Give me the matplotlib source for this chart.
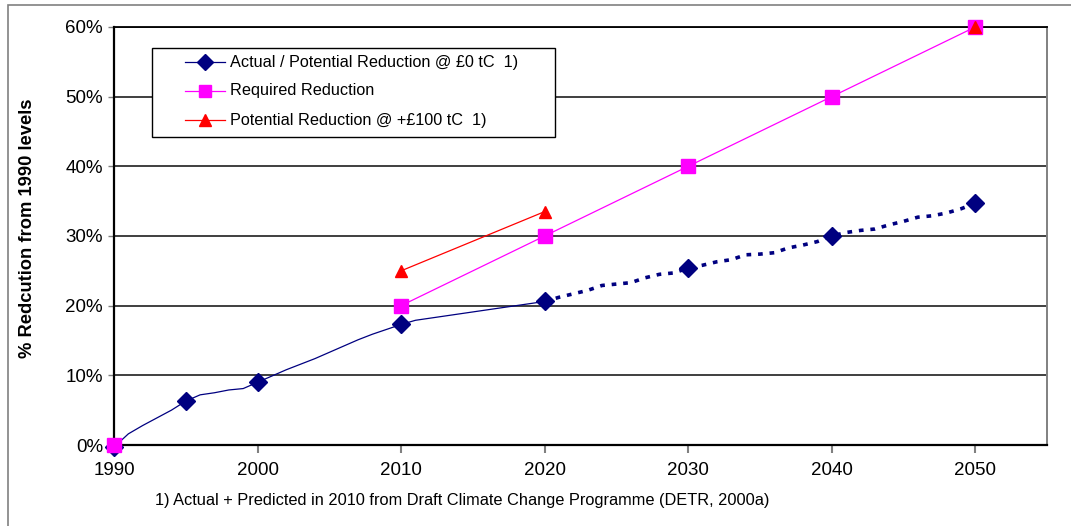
import numpy as np
import matplotlib.pyplot as plt
from matplotlib.patches import Rectangle
from matplotlib.lines import Line2D

# annual reductions (% below 1990), actual up to 2010 then programme estimate to 2020
years_actual = list(range(1990, 2021))
actual_pct = [-0.3, 1.6, 2.8, 3.9, 5.0, 6.3, 7.2, 7.5, 7.9, 8.1,
              9.0, 9.9, 10.8, 11.6, 12.4, 13.3, 14.2, 15.1, 15.9, 16.6,
              17.3, 17.9, 18.2, 18.5, 18.8, 19.1, 19.4, 19.7, 20.0, 20.3,
              20.6]

# potential reduction @ £0 tC beyond 2020
years_proj = list(range(2020, 2051))
proj_pct = [20.6, 21.2, 21.7, 22.2, 22.9, 23.1, 23.3, 24.0, 24.5, 24.7,
            25.4, 25.8, 26.3, 26.6, 27.3, 27.4, 27.6, 28.3, 28.7, 29.2,
            30.0, 30.5, 30.8, 31.0, 31.6, 32.1, 32.7, 32.9, 33.3, 33.9,
            34.7]

marker_years = [1990, 1995, 2000, 2010, 2020, 2030, 2040, 2050]

required_years = [1990, 2010, 2020, 2030, 2040, 2050]
required_pct = [0, 20, 30, 40, 50, 60]

pot100_years = [2010, 2020]
pot100_pct = [25.0, 33.5]
pot100_2050_year = 2050
pot100_2050_pct = 60.0

series_labels = ['Actual / Potential Reduction @ £0 tC  1)',
                 'Required Reduction',
                 'Potential Reduction @ +£100 tC  1)']

navy = '#000080'
magenta = '#FF00FF'
red = '#FF0000'

plt.rcParams['font.family'] = ['Liberation Sans', 'DejaVu Sans']

W, H = 1071, 526
fig = plt.figure(figsize=(W / 100, H / 100), dpi=100)
fig.patch.set_facecolor('white')
# thin frame around the chart area
fig.patches.append(Rectangle((8 / W, -0.1), 1.2, 1 - 5 / H + 0.1, transform=fig.transFigure,
                             fill=False, edgecolor='#808080', linewidth=1.2))

ax = fig.add_axes([114 / W, 1 - 445 / H, (1047 - 114) / W, (445 - 27) / H])

# actual / potential reduction @ £0 tC
all_years = years_actual + years_proj[1:]
all_pct = actual_pct + proj_pct[1:]
mk_vals = [all_pct[all_years.index(y)] for y in marker_years]
ax.plot(years_actual, actual_pct, color=navy, lw=0.9, zorder=3)
ax.plot(years_proj, proj_pct, color=navy, lw=2.6, dashes=(1.3, 1.9), zorder=3)
ax.plot(marker_years, mk_vals, ls='none', marker='D', ms=9, color=navy, zorder=4, clip_on=False)

# required reduction (line starts at 2010)
ax.plot(required_years[1:], required_pct[1:], color=magenta, lw=0.9, zorder=3)
ax.plot(required_years, required_pct, ls='none', marker='s', ms=10, color=magenta,
        zorder=5, clip_on=False)

# potential reduction @ +£100 tC
ax.plot(pot100_years, pot100_pct, color=red, lw=0.9, marker='^', ms=8, zorder=3)
ax.plot([pot100_2050_year], [pot100_2050_pct], ls='none', marker='^', ms=8, color=red,
        zorder=6, clip_on=False)

ax.set_xlim(1990, 2055)
ax.set_ylim(0, 60)
ax.set_xticks(range(1990, 2051, 10))
ax.set_yticks(range(0, 61, 10))
ax.set_yticklabels(['{}%'.format(v) for v in range(0, 61, 10)])
ax.tick_params(axis='both', labelsize=13.5, colors='black', direction='out')
ax.tick_params(axis='x', length=6, width=1.5, color='#808080', pad=6)
ax.tick_params(axis='y', length=4, width=1, color='#808080', pad=4)

ax.yaxis.grid(True, color='#303030', lw=1.3)
ax.set_axisbelow(True)
for side in ['left', 'bottom']:
    ax.spines[side].set_color('black')
    ax.spines[side].set_linewidth(1.6)
ax.spines['right'].set_color('#808080')
ax.spines['right'].set_linewidth(1.4)
ax.spines['top'].set_color('black')
ax.spines['top'].set_linewidth(1.3)

fig.text(28 / W, 1 - 228 / H, '% Redcution from 1990 levels', fontsize=13.2,
         fontweight='bold', rotation=90, ha='center', va='center')

# legend box drawn in figure pixels
px = lambda x, y: (x / W, 1 - y / H)
fig.patches.append(Rectangle(px(152, 137), (555 - 152) / W, (137 - 48) / H,
                             transform=fig.transFigure, facecolor='white',
                             edgecolor='black', linewidth=1.0, zorder=10))
leg_styles = [(navy, 'D', 8), (magenta, 's', 9), (red, '^', 8)]
for (col, mk, ms), label, y in zip(leg_styles, series_labels, [62, 91, 120]):
    fig.add_artist(Line2D([185 / W, 225 / W], [1 - y / H] * 2, color=col, lw=0.9,
                          transform=fig.transFigure, zorder=11))
    fig.add_artist(Line2D([205 / W], [1 - y / H], color=col, marker=mk, ms=ms,
                          transform=fig.transFigure, zorder=12))
    fig.text(230 / W, 1 - y / H, label, fontsize=11.7, ha='left', va='center', zorder=12)

fig.text(155 / W, 1 - 500 / H,
         '1) Actual + Predicted in 2010 from Draft Climate Change Programme (DETR, 2000a)',
         fontsize=11.8, va='center', ha='left')

fig.savefig('out.png', dpi=100)
